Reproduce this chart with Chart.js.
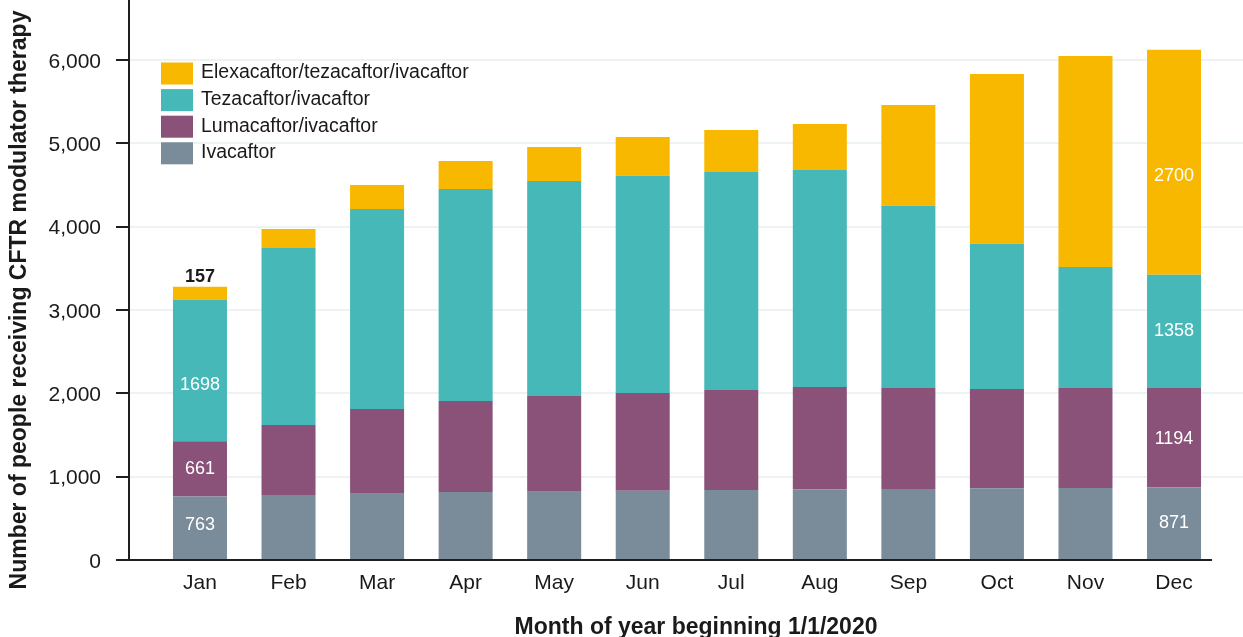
<!DOCTYPE html>
<html>
<head>
<meta charset="utf-8">
<script src="https://cdn.jsdelivr.net/npm/chart.js@4"></script>
<style>
  html, body { margin: 0; padding: 0; background: #ffffff; }
  #wrap { width: 1243px; height: 637px; position: relative; }
</style>
</head>
<body>
<div id="wrap"><canvas id="c" width="1243" height="637"></canvas></div>
<script>
// ---- data ----
const months = ['Jan','Feb','Mar','Apr','May','Jun','Jul','Aug','Sep','Oct','Nov','Dec'];
const ivacaftor   = [763, 780, 795, 815, 820, 830, 840, 850, 852, 862, 865, 871];
const lumacaftor  = [661, 840, 1017, 1093, 1148, 1174, 1200, 1226, 1212, 1190, 1199, 1194];
const tezacaftor  = [1698, 2130, 2400, 2544, 2580, 2606, 2616, 2604, 2186, 1743, 1452, 1358];
const elexacaftor = [157, 222, 288, 336, 408, 466, 504, 552, 1210, 2037, 2532, 2700];
const seriesNames = ['Ivacaftor', 'Lumacaftor/ivacaftor', 'Tezacaftor/ivacaftor', 'Elexacaftor/tezacaftor/ivacaftor'];
const yTicks = [0, 1000, 2000, 3000, 4000, 5000, 6000];
const xTitle = 'Month of year beginning 1/1/2020';
const yTitle = 'Number of people receiving CFTR modulator therapy';
// value labels shown on bars: [series index, month index]
const shownLabels = [[3,0],[2,0],[1,0],[0,0],[3,11],[2,11],[1,11],[0,11]];

// ---- styles ----
const colors = ['#7a8b99', '#8a5279', '#46b8b8', '#f8b800'];
const FONT = '"Liberation Sans", Helvetica, Arial, sans-serif';
const TEXT = '#1a1a1a';
const labelStyle = {
  '3,0':  {pos: 'above', color: TEXT, weight: 'bold', dy: 0},
  '2,0':  {pos: 'in', color: '#ffffff', weight: 'normal', dy: 14},
  '1,0':  {pos: 'in', color: '#ffffff', weight: 'normal', dy: 0},
  '0,0':  {pos: 'in', color: '#ffffff', weight: 'normal', dy: -3},
  '3,11': {pos: 'in', color: '#ffffff', weight: 'normal', dy: 14},
  '2,11': {pos: 'in', color: '#ffffff', weight: 'normal', dy: 0},
  '1,11': {pos: 'in', color: '#ffffff', weight: 'normal', dy: 1},
  '0,11': {pos: 'in', color: '#ffffff', weight: 'normal', dy: -1}
};
const TOP_TICK_PX = 60;   // pixel row of the highest tick

const seriesData = [ivacaftor, lumacaftor, tezacaftor, elexacaftor];

const decorPlugin = {
  id: 'decor',
  afterLayout(chart) {
    // stretch the value range so that the top tick lands on TOP_TICK_PX
    const y = chart.scales.y;
    const top = y.top, bottom = y.bottom;
    const topTick = yTicks[yTicks.length - 1];
    y.max = topTick * (bottom - top) / (bottom - TOP_TICK_PX);
    y.min = 0;
    y.configure();
  },
  beforeDatasetsDraw(chart) {
    const ctx = chart.ctx, y = chart.scales.y;
    ctx.save();
    ctx.strokeStyle = '#edf2f2';
    ctx.lineWidth = 2;
    yTicks.forEach(v => {
      if (v === 0) return;
      const py = Math.round(y.getPixelForValue(v));
      ctx.beginPath(); ctx.moveTo(129, py); ctx.lineTo(1243, py); ctx.stroke();
    });
    ctx.restore();
  },
  afterDatasetsDraw(chart) {
    const ctx = chart.ctx, y = chart.scales.y;
    const base = y.getPixelForValue(0);
    ctx.save();
    ctx.strokeStyle = '#1f1f1f';
    ctx.lineWidth = 2;
    ctx.beginPath(); ctx.moveTo(129, 0); ctx.lineTo(129, base); ctx.stroke();
    ctx.beginPath(); ctx.moveTo(116, base); ctx.lineTo(1212, base); ctx.stroke();
    yTicks.forEach(v => {
      const py = Math.round(y.getPixelForValue(v));
      ctx.beginPath(); ctx.moveTo(116, py); ctx.lineTo(129, py); ctx.stroke();
    });
    ctx.restore();

    // value labels
    ctx.save();
    ctx.textAlign = 'center';
    ctx.textBaseline = 'middle';
    shownLabels.forEach(([s, i]) => {
      const st = labelStyle[s + ',' + i];
      const el = chart.getDatasetMeta(s).data[i];
      const props = el.getProps(['x', 'y', 'base'], true);
      ctx.font = st.weight + ' 18px ' + FONT;
      ctx.fillStyle = st.color;
      let py;
      if (st.pos === 'above') py = props.y - 10;
      else py = (props.y + props.base) / 2 + st.dy;
      ctx.fillText(String(seriesData[s][i]), props.x, py);
    });
    ctx.restore();

    // legend (top-down: reverse dataset order)
    ctx.save();
    ctx.font = 'normal 19.5px ' + FONT;
    ctx.textAlign = 'left';
    ctx.textBaseline = 'middle';
    for (let k = 0; k < 4; k++) {
      const s = 3 - k;
      const top = 62.5 + k * 26.6;
      ctx.fillStyle = colors[s];
      ctx.fillRect(161, top, 32, 22);
      ctx.fillStyle = TEXT;
      ctx.fillText(seriesNames[s], 201, top + 10.5);
    }
    ctx.restore();

    // axis titles
    ctx.save();
    ctx.fillStyle = TEXT;
    ctx.font = 'bold 23px ' + FONT;
    ctx.textAlign = 'center';
    ctx.textBaseline = 'alphabetic';
    ctx.fillText(xTitle, 696, 634);
    ctx.translate(26, 300);
    ctx.rotate(-Math.PI / 2);
    ctx.fillText(yTitle, 0, 0);
    ctx.restore();
  }
};

new Chart(document.getElementById('c'), {
  type: 'bar',
  data: {
    labels: months,
    datasets: seriesNames.map((name, s) => ({
      label: name,
      data: seriesData[s],
      backgroundColor: colors[s],
      borderWidth: 0,
      clip: false,
      categoryPercentage: 1,
      barPercentage: 0.61
    }))
  },
  options: {
    responsive: false,
    animation: false,
    events: [],
    layout: { autoPadding: false, padding: { left: 0, right: 24.7, top: 0, bottom: 0 } },
    plugins: { legend: { display: false }, tooltip: { enabled: false }, title: { display: false } },
    scales: {
      x: {
        stacked: true,
        grid: { display: false, drawTicks: false, tickLength: 0 },
        border: { display: false },
        ticks: { color: TEXT, font: { family: FONT, size: 21 }, padding: 11, maxRotation: 0, autoSkip: false },
        afterFit(scale) { scale.height = 77; }
      },
      y: {
        stacked: true,
        min: 0,
        max: 6720,
        grid: { display: false, drawTicks: false, tickLength: 0 },
        border: { display: false },
        afterBuildTicks(scale) { scale.ticks = yTicks.map(v => ({ value: v })); },
        ticks: {
          color: TEXT,
          font: { family: FONT, size: 21 },
          padding: 54.7,
          labelOffset: 2,
          callback: v => Number(v).toLocaleString('en-US')
        },
        afterFit(scale) { scale.width = 155.7; }
      }
    }
  },
  plugins: [decorPlugin]
});
</script>
</body>
</html>
